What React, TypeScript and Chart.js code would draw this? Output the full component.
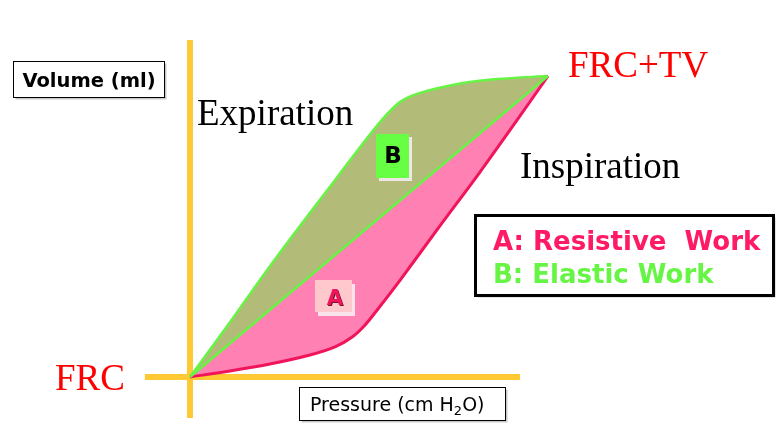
import React, { useEffect, useRef } from "react";
import { Chart, registerables } from "chart.js";

Chart.register(...registerables);

// Pressure (x) and volume (y) in relative units: FRC = (0,0), FRC+TV = (10,10)
const expirationPressure = [0, 1.06, 2.15, 3.07, 4.05, 4.69, 5.36, 5.87, 6.42, 7.63, 8.58, 10];
const expirationVolume = [0, 1.73, 3.55, 5.02, 6.54, 7.54, 8.54, 9.14, 9.44, 9.77, 9.9, 10];

const inspirationPressure = [0, 1.12, 2.23, 3.35, 4.05, 4.53, 4.89, 5.25, 5.87, 6.98, 8.1, 9.08, 10];
const inspirationVolume = [0, 0.2, 0.43, 0.73, 1.0, 1.33, 1.73, 2.26, 3.22, 5.02, 6.81, 8.44, 10];

const compliancePressure = [0, 10];
const complianceVolume = [0, 10];

const pressureAxisRange = [-1.26, 9.22];
const volumeAxisRange = [-1.36, 11.2];

const xRange = [-5.307, 16.48];
const yRange = [-2.027, 12.525];

const toPoints = (xs: number[], ys: number[]) => xs.map((x, i) => ({ x, y: ys[i] }));

const labelsPlugin = {
  id: "pvLabels",
  afterDatasetsDraw(chart: any) {
    const ctx: CanvasRenderingContext2D = chart.ctx;
    ctx.save();

    const shadowBox = (x: number, y: number, w: number, h: number, lw: number) => {
      ctx.fillStyle = "#c8c8c8";
      ctx.fillRect(x + 2, y + 2, w, h);
      ctx.fillStyle = "#ffffff";
      ctx.fillRect(x, y, w, h);
      ctx.strokeStyle = "#000000";
      ctx.lineWidth = lw;
      ctx.strokeRect(x, y, w, h);
    };

    // Volume axis title box
    shadowBox(13.5, 61.5, 151, 36, 1);
    ctx.fillStyle = "#000";
    ctx.font = "bold 19.5px 'DejaVu Sans'";
    ctx.textAlign = "center";
    ctx.textBaseline = "alphabetic";
    ctx.fillText("Volume (ml)", 89, 87);

    // Pressure axis title box
    shadowBox(299.5, 387.5, 206, 33, 1);
    ctx.fillStyle = "#000";
    ctx.textAlign = "left";
    ctx.font = "19px 'DejaVu Sans'";
    let px = 310;
    const base = 411;
    const t1 = "Pressure (cm H";
    ctx.fillText(t1, px, base);
    px += ctx.measureText(t1).width;
    ctx.font = "13px 'DejaVu Sans'";
    ctx.fillText("2", px, base + 4);
    px += ctx.measureText("2").width;
    ctx.font = "19px 'DejaVu Sans'";
    ctx.fillText("O)", px, base);

    // Legend box
    shadowBox(475.5, 215.5, 298, 80, 3);
    ctx.font = "bold 26px 'DejaVu Sans'";
    ctx.fillStyle = "#ff1a66";
    ctx.fillText("A: Resistive  Work", 493, 250);
    ctx.fillStyle = "#66f544";
    ctx.fillText("B: Elastic Work", 493, 283);

    // Serif labels
    ctx.font = "37px 'Liberation Serif'";
    ctx.fillStyle = "#ff0000";
    ctx.fillText("FRC+TV", 568, 77);
    ctx.fillText("FRC", 55, 390);
    ctx.fillStyle = "#000000";
    ctx.fillText("Expiration", 197, 125);
    ctx.fillText("Inspiration", 520, 178);

    // Region B badge
    ctx.fillStyle = "#efe6e6";
    ctx.fillRect(379, 137, 33, 44);
    ctx.fillStyle = "#66ff44";
    ctx.fillRect(376, 134, 33, 44);
    ctx.fillStyle = "#000";
    ctx.font = "bold 23px 'DejaVu Sans'";
    ctx.textAlign = "center";
    ctx.textBaseline = "middle";
    ctx.fillText("B", 393, 157);

    // Region A badge
    ctx.fillStyle = "#fbe3ea";
    ctx.fillRect(318, 284, 37, 32);
    ctx.fillStyle = "#ffc8cc";
    ctx.fillRect(315, 280, 37, 32);
    ctx.font = "bold 21px 'DejaVu Sans'";
    ctx.fillStyle = "#6a1830";
    ctx.fillText("A", 336, 301);
    ctx.fillStyle = "#f0145a";
    ctx.fillText("A", 335, 300);

    ctx.restore();
  },
};

export default function App() {
  const canvasRef = useRef<HTMLCanvasElement | null>(null);

  useEffect(() => {
    document.body.style.margin = "0";
    const canvas = canvasRef.current;
    if (!canvas) return;
    const chart = new Chart(canvas, {
      type: "scatter",
      data: {
        datasets: [
          {
            label: "Compliance",
            data: toPoints(compliancePressure, complianceVolume),
            showLine: true,
            borderColor: "#66f544",
            borderWidth: 2.5,
            pointRadius: 0,
            fill: false,
            order: 0,
          },
          {
            label: "Inspiration",
            data: toPoints(inspirationPressure, inspirationVolume),
            showLine: true,
            borderColor: "#f0145a",
            backgroundColor: "#ff80b2",
            borderWidth: 3,
            pointRadius: 0,
            tension: 0.3,
            fill: "shape",
            order: 1,
          },
          {
            label: "Expiration",
            data: toPoints(expirationPressure, expirationVolume),
            showLine: true,
            borderColor: "#66f544",
            backgroundColor: "#b2bb77",
            borderWidth: 2.5,
            pointRadius: 0,
            tension: 0.3,
            fill: "shape",
            order: 2,
          },
          {
            label: "Volume axis",
            data: [
              { x: 0, y: volumeAxisRange[0] },
              { x: 0, y: volumeAxisRange[1] },
            ],
            showLine: true,
            borderColor: "#ffc933",
            borderWidth: 6,
            pointRadius: 0,
            fill: false,
            order: 3,
          },
          {
            label: "Pressure axis",
            data: [
              { x: pressureAxisRange[0], y: 0 },
              { x: pressureAxisRange[1], y: 0 },
            ],
            showLine: true,
            borderColor: "#ffc933",
            borderWidth: 6,
            pointRadius: 0,
            fill: false,
            order: 3,
          },
        ],
      },
      options: {
        responsive: false,
        animation: false,
        layout: { padding: 0 },
        scales: {
          x: { type: "linear", min: xRange[0], max: xRange[1], display: false },
          y: { type: "linear", min: yRange[0], max: yRange[1], display: false },
        },
        plugins: {
          legend: { display: false },
          tooltip: { enabled: false },
          title: { display: false },
        },
      },
      plugins: [labelsPlugin],
    });
    return () => chart.destroy();
  }, []);

  return (
    <div style={{ position: "absolute", left: 0, top: 0, width: 780, height: 438, background: "#fff" }}>
      <canvas ref={canvasRef} width={780} height={438} />
    </div>
  );
}
